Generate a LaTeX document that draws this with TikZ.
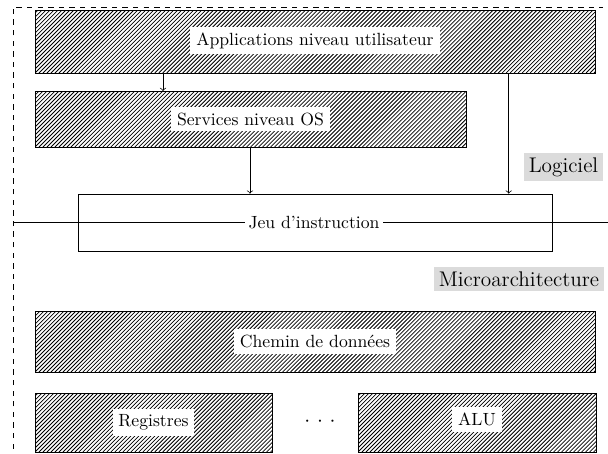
\documentclass[tikz,border=0pt]{standalone}
\begin{document}
\begin{tikzpicture}[x=0.566pt,y=-0.566pt,
  hatch/.style={path picture={
    \foreach \k in {-20,...,145}
      \draw[line width=0.45pt]
        ([xshift=\k*2.26pt]path picture bounding box.south west) -- ++(60pt,60pt);}},
  layer/.style={draw,hatch},
  lbl/.style={fill=white,inner sep=3.33pt},
  tag/.style={fill=black!14,inner sep=2.5pt,font=\large},
  link/.style={->}]
\useasboundingbox (0,0) rectangle (608,453);
% outer dashed frame (software side)
\draw[dashed] (13,470) -- (13,7) -- (603,7);
% software layers
\draw[layer] (35,10) rectangle (595,73);
\node[lbl] (app) at (315,40.5) {Applications niveau utilisateur};
\draw[layer] (35,91) rectangle (466,147);
\node[lbl] (os) at (250.5,119) {Services niveau OS};
% instruction set interface
\draw (13,222.5) -- (608,222.5);
\node[draw,minimum width=474*0.566pt,minimum height=57*0.566pt] (isa) at (315,222.5) {};
\node[fill=white,inner sep=2pt] (isalbl) at (314,222.5) {Jeu d'instruction};
% hardware layers
\draw[layer] (35,311) rectangle (595,372);
\node[lbl] (dp) at (315,341.5) {Chemin de donn\'ees};
\draw[layer] (35,393) rectangle (272,452);
\node[lbl] (reg) at (153.5,422.5) {Registres};
\draw[layer] (358,393) rectangle (596,452);
\node[lbl] (alu) at (477,419.5) {ALU};
\node[inner sep=0pt,font=\large] (dots) at (320,421.7) {${\cdot}\kern3.8pt{\cdot}\kern3.8pt{\cdot}$};
% connectors
\coordinate (appb1) at (163,73);
\coordinate (osT) at (163,91);
\coordinate (appb2) at (508.7,73);
\coordinate (osB) at (250,147);
\draw[link] (appb1) -- (osT);
\draw[link] (osB) -- (osB |- isa.north);
\draw[link] (appb2) -- (appb2 |- isa.north);
% level tags
\node[tag] (sw) at (563.5,167) {Logiciel};
\node[tag] (hw) at (519,279) {Microarchitecture};
\end{tikzpicture}
\end{document}
